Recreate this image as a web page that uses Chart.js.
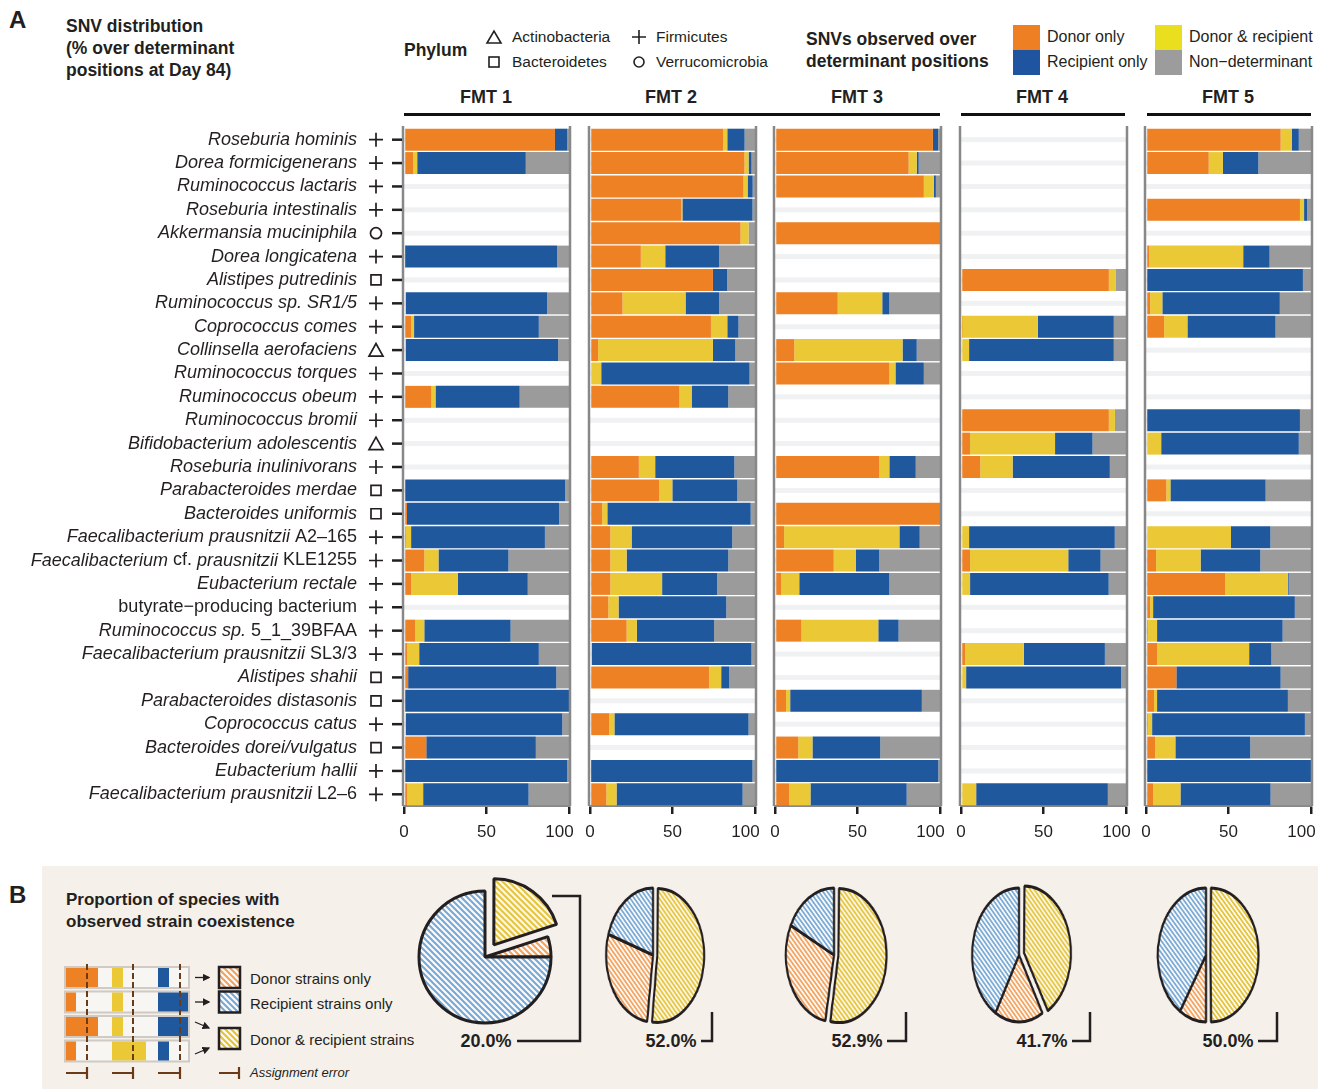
<!DOCTYPE html>
<html>
<head>
<meta charset="utf-8">
<script src="https://cdn.jsdelivr.net/npm/chart.js@4.4.1/dist/chart.umd.min.js"></script>
<style>
  body { margin: 0; background: #fff; }
  #page { position: relative; width: 1325px; height: 1089px; overflow: hidden;
          font-family: 'Liberation Sans', Arial, sans-serif; color: #231f20; }
  .t { position: absolute; white-space: nowrap; }
  .b { font-weight: bold; }
  .c { text-align: center; }
  canvas { position: absolute; }
  .sw { position: absolute; width: 27px; height: 25px; }
  .rule { position: absolute; height: 3px; background: #111; top: 113px; }
</style>
</head>
<body>
<div id="page">
  <div style="position:absolute;left:42px;top:866px;width:1276px;height:223px;background:#f5f0ea"></div>

  <!-- panel A header -->
  <div class="t b" style="left:9px;top:6px;font-size:24px;line-height:28px">A</div>
  <div class="t b" style="left:66px;top:15px;font-size:17.5px;line-height:22px">SNV distribution<br>(% over determinant<br>positions at Day 84)</div>
  <div class="t b" style="left:404px;top:39px;font-size:17.5px;line-height:22px">Phylum</div>
  <div class="t" style="left:512px;top:27px;font-size:15.5px;line-height:20px">Actinobacteria</div>
  <div class="t" style="left:512px;top:52px;font-size:15.5px;line-height:20px">Bacteroidetes</div>
  <div class="t" style="left:656px;top:27px;font-size:15.5px;line-height:20px">Firmicutes</div>
  <div class="t" style="left:656px;top:52px;font-size:15.5px;line-height:20px">Verrucomicrobia</div>
  <div class="t b" style="left:806px;top:28px;font-size:17.5px;line-height:22px">SNVs observed over<br>determinant positions</div>
  <div class="sw" style="left:1013px;top:25px;background:#ee7f22"></div>
  <div class="sw" style="left:1013px;top:50px;background:#1f55a0"></div>
  <div class="sw" style="left:1155px;top:25px;background:#e9df1f"></div>
  <div class="sw" style="left:1155px;top:50px;background:#9c9c9c"></div>
  <div class="t" style="left:1047px;top:27px;font-size:16px;line-height:20px">Donor only</div>
  <div class="t" style="left:1047px;top:52px;font-size:16px;line-height:20px">Recipient only</div>
  <div class="t" style="left:1189px;top:27px;font-size:16px;line-height:20px">Donor &amp; recipient</div>
  <div class="t" style="left:1189px;top:52px;font-size:16px;line-height:20px">Non−determinant</div>

  <div class="t b c" style="left:436px;width:100px;top:86px;font-size:18px;line-height:22px">FMT 1</div>
  <div class="t b c" style="left:621px;width:100px;top:86px;font-size:18px;line-height:22px">FMT 2</div>
  <div class="t b c" style="left:807px;width:100px;top:86px;font-size:18px;line-height:22px">FMT 3</div>
  <div class="t b c" style="left:992px;width:100px;top:86px;font-size:18px;line-height:22px">FMT 4</div>
  <div class="t b c" style="left:1178px;width:100px;top:86px;font-size:18px;line-height:22px">FMT 5</div>
  <div class="rule" style="left:404px;width:536px"></div>
  <div class="rule" style="left:961px;width:164px"></div>
  <div class="rule" style="left:1147px;width:164px"></div>

  <!-- panel B texts -->
  <div class="t b" style="left:9px;top:881px;font-size:24px;line-height:28px">B</div>
  <div class="t b" style="left:66px;top:889px;font-size:17px;line-height:22px">Proportion of species with<br>observed strain coexistence</div>
  <div class="t" style="left:250px;top:969px;font-size:15px;line-height:20px">Donor strains only</div>
  <div class="t" style="left:250px;top:994px;font-size:15px;line-height:20px">Recipient strains only</div>
  <div class="t" style="left:250px;top:1030px;font-size:15px;line-height:20px">Donor &amp; recipient strains</div>
  <div class="t" style="left:250px;top:1065px;font-size:13px;line-height:16px;font-style:italic">Assignment error</div>
  <div class="t b c" style="left:446px;width:80px;top:1030px;font-size:18px;line-height:22px">20.0%</div>
  <div class="t b c" style="left:631px;width:80px;top:1030px;font-size:18px;line-height:22px">52.0%</div>
  <div class="t b c" style="left:817px;width:80px;top:1030px;font-size:18px;line-height:22px">52.9%</div>
  <div class="t b c" style="left:1002px;width:80px;top:1030px;font-size:18px;line-height:22px">41.7%</div>
  <div class="t b c" style="left:1188px;width:80px;top:1030px;font-size:18px;line-height:22px">50.0%</div>

  <svg style="position:absolute;left:0;top:0;z-index:5" width="1325" height="1089">
    <defs>
      <pattern id="hO" width="6" height="6" patternUnits="userSpaceOnUse">
        <rect width="6" height="6" fill="#fcfaf7"/>
        <path d="M-3,-3 L9,9 M-3,3 L3,9 M3,-3 L9,3" stroke="#f4a15c" stroke-width="2"/>
      </pattern>
      <pattern id="hB" width="6" height="6" patternUnits="userSpaceOnUse">
        <rect width="6" height="6" fill="#fcfaf7"/>
        <path d="M-3,-3 L9,9 M-3,3 L3,9 M3,-3 L9,3" stroke="#74a8d8" stroke-width="2"/>
      </pattern>
      <pattern id="hY" width="6" height="6" patternUnits="userSpaceOnUse">
        <rect width="6" height="6" fill="#fcfaf7"/>
        <path d="M-3,-3 L9,9 M-3,3 L3,9 M3,-3 L9,3" stroke="#e6c22c" stroke-width="2"/>
      </pattern>
      <marker id="ah" markerWidth="6" markerHeight="6" refX="5" refY="3" orient="auto">
        <path d="M0,0 L6,3 L0,6 z" fill="#231f20"/>
      </marker>
    </defs>
    <!-- phylum legend symbols -->
    <g fill="none" stroke="#231f20" stroke-width="1.6">
      <path d="M487,43 L501,43 L494,31 Z"/>
      <rect x="489" y="57" width="10" height="10"/>
      <path d="M632,37 H646 M639,30 V44"/>
      <circle cx="639" cy="62" r="5"/>
    </g>
    <!-- schematic bars -->
    <g>
      <rect x="65" y="967" width="124" height="21" fill="#f8f6f3" stroke="#cfcac4" stroke-width="2"/>
      <rect x="66" y="968" width="32" height="19" fill="#ed8124"/>
      <rect x="112" y="968" width="11" height="19" fill="#eac836"/>
      <rect x="158" y="968" width="11" height="19" fill="#20589e"/>
      <rect x="65" y="991.5" width="124" height="21" fill="#f8f6f3" stroke="#cfcac4" stroke-width="2"/>
      <rect x="66" y="992.5" width="10" height="19" fill="#ed8124"/>
      <rect x="112" y="992.5" width="11" height="19" fill="#eac836"/>
      <rect x="158" y="992.5" width="30" height="19" fill="#20589e"/>
      <rect x="65" y="1016" width="124" height="21" fill="#f8f6f3" stroke="#cfcac4" stroke-width="2"/>
      <rect x="66" y="1017" width="32" height="19" fill="#ed8124"/>
      <rect x="112" y="1017" width="11" height="19" fill="#eac836"/>
      <rect x="158" y="1017" width="30" height="19" fill="#20589e"/>
      <rect x="65" y="1040.5" width="124" height="21" fill="#f8f6f3" stroke="#cfcac4" stroke-width="2"/>
      <rect x="66" y="1041.5" width="10" height="19" fill="#ed8124"/>
      <rect x="112" y="1041.5" width="34" height="19" fill="#eac836"/>
      <rect x="158" y="1041.5" width="11" height="19" fill="#20589e"/>
      <path d="M87,964 V1063 M133,964 V1063 M180,964 V1063" stroke="#6a3b16" stroke-width="2" stroke-dasharray="6 3"/>
      <path d="M66,1073 H87 M87,1067 V1079 M112,1073 H133 M133,1067 V1079 M158,1073 H180 M180,1067 V1079 M219,1073 H239 M239,1067 V1079" stroke="#6a3b16" stroke-width="2.2" fill="none"/>
      <g stroke="#231f20" stroke-width="1.3" marker-end="url(#ah)">
        <line x1="195" y1="977.5" x2="209" y2="977.5"/>
        <line x1="195" y1="1002" x2="209" y2="1002"/>
        <line x1="195" y1="1022" x2="209" y2="1028"/>
        <line x1="195" y1="1054" x2="209" y2="1048"/>
      </g>
      <rect x="219" y="967" width="21" height="21" fill="url(#hO)" stroke="#231f20" stroke-width="2.5"/>
      <rect x="219" y="991.5" width="21" height="21" fill="url(#hB)" stroke="#231f20" stroke-width="2.5"/>
      <rect x="219" y="1028" width="21" height="21" fill="url(#hY)" stroke="#231f20" stroke-width="2.5"/>
    </g>
    <!-- pie label connectors -->
    <g fill="none" stroke="#231f20" stroke-width="2.5">
      <polyline points="517,1041 580,1041 580,896 552,896"/>
      <polyline points="701,1041 712,1041 712,1012"/>
      <polyline points="887,1041 906,1041 906,1012"/>
      <polyline points="1072,1041 1090,1041 1090,1012"/>
      <polyline points="1258,1041 1277,1041 1277,1012"/>
    </g>
  </svg>
</div>

<script>
const _ = null;

// species (names in *...* are italic) and phylum: F Firmicutes, B Bacteroidetes, A Actinobacteria, V Verrucomicrobia
const species = [
  '*Roseburia hominis*', '*Dorea formicigenerans*', '*Ruminococcus lactaris*', '*Roseburia intestinalis*',
  '*Akkermansia muciniphila*', '*Dorea longicatena*', '*Alistipes putredinis*', '*Ruminococcus sp. SR1/5*',
  '*Coprococcus comes*', '*Collinsella aerofaciens*', '*Ruminococcus torques*', '*Ruminococcus obeum*',
  '*Ruminococcus bromii*', '*Bifidobacterium adolescentis*', '*Roseburia inulinivorans*', '*Parabacteroides merdae*',
  '*Bacteroides uniformis*', '*Faecalibacterium prausnitzii* A2–165', '*Faecalibacterium* cf. *prausnitzii* KLE1255',
  '*Eubacterium rectale*', 'butyrate−producing bacterium', '*Ruminococcus sp.* 5_1_39BFAA',
  '*Faecalibacterium prausnitzii* SL3/3', '*Alistipes shahii*', '*Parabacteroides distasonis*', '*Coprococcus catus*',
  '*Bacteroides dorei/vulgatus*', '*Eubacterium hallii*', '*Faecalibacterium prausnitzii* L2–6'
];
const phylum = ['F','F','F','F','V','F','B','F','F','A','F','F','F','A','F','B','B','F','F','F','F','F','F','B','B','F','B','F','F'];

const xTicks = [0, 50, 100];

// % of SNVs: donor only / donor & recipient / recipient only / non-determinant
const fmt1Donor = [91.5, 5.5, _, _, _, 0, _, 0, 4.3, 0, _, 16.6, _, _, _, 0, 1.8, 1.2, 12.3, 4.3, _, 6.8, 1.8, 2.5, 0, 0, 13.5, 0, 1.8];
const fmt1Both  = [0, 2.5, _, _, _, 0.6, _, 1.2, 1.8, 1.2, _, 2.5, _, _, _, 0, 0, 3.1, 8.6, 28.3, _, 5.5, 7.4, 0, 0, 1.2, 0, 0, 9.8];
const fmt1Recip = [7.5, 65.8, _, _, _, 92.2, _, 85.5, 75.6, 92.2, _, 51, _, _, _, 97.7, 92.2, 81.1, 42.4, 42.4, _, 52.3, 72.5, 89.8, 100, 94.7, 66.4, 99, 63.9];
const fmt1Non   = [1, 26.2, _, _, _, 7.2, _, 13.3, 18.3, 6.6, _, 29.9, _, _, _, 2.3, 6, 14.6, 36.7, 25, _, 35.4, 18.3, 7.7, 0, 4.1, 20.1, 1, 24.5];

const fmt2Donor = [80.7, 93.6, 93, 55.4, 91.2, 30.8, 74.5, 19.7, 73.3, 4.9, 0, 54.2, _, _, 29.6, 41.9, 7.4, 12.3, 12.3, 12.3, 11.1, 22.2, 0, 72.1, _, 11.7, _, 0, 9.9];
const fmt2Both  = [2.5, 2.5, 2.5, 0.6, 4.9, 14.8, 0, 38.2, 9.9, 69.6, 6.8, 7.4, _, _, 9.9, 8, 3.1, 12.9, 9.9, 31.4, 6.2, 6.2, 1.2, 7.4, _, 3.1, _, 0.6, 6.2];
const fmt2Recip = [10.5, 1.8, 3.1, 42.5, 0, 32.6, 8.6, 20.3, 6.8, 13.6, 89.9, 22.2, _, _, 48, 39.4, 86.9, 61, 61.6, 33.3, 65.3, 46.8, 96.7, 4.9, _, 81.3, _, 97.9, 76.4];
const fmt2Non   = [6.3, 2.1, 1.4, 1.5, 3.9, 21.8, 16.9, 21.8, 10, 11.9, 3.3, 16.2, _, _, 12.5, 10.7, 2.6, 13.8, 16.2, 23, 17.4, 24.8, 2.1, 15.6, _, 3.9, _, 1.5, 7.5];

const fmt3Donor = [95.7, 81, 90.2, _, 100, _, _, 38, _, 11.7, 69.3, _, _, _, 63.2, _, 100, 5.5, 35.6, 3.7, _, 16, _, _, 6.7, _, 14.1, 0, 8.6];
const fmt3Both  = [0, 4.9, 6.1, _, 0, _, _, 27, _, 65.6, 3.7, _, _, _, 6.1, _, 0, 69.9, 13.5, 11, _, 46.6, _, _, 2.5, _, 8.6, 0, 12.9];
const fmt3Recip = [3.1, 1.2, 1.2, _, 0, _, _, 4.3, _, 8.6, 17.2, _, _, _, 16, _, 0, 12.3, 14.1, 54.6, _, 12.3, _, _, 79.8, _, 41.1, 99, 58.3];
const fmt3Non   = [1.2, 12.9, 2.5, _, 0, _, _, 30.7, _, 14.1, 9.8, _, _, _, 14.7, _, 0, 12.3, 36.8, 30.7, _, 25.1, _, _, 11, _, 36.2, 1, 20.2];

const fmt4Donor = [_, _, _, _, _, _, 89.6, _, 0.6, 0, _, _, 89.6, 5.5, 11.7, _, _, 0, 5.5, 0, _, _, 2.5, 0, _, _, _, _, 0];
const fmt4Both  = [_, _, _, _, _, _, 4.3, _, 46, 4.9, _, _, 3.7, 51.5, 19.6, _, _, 4.9, 59.5, 5.5, _, _, 35.6, 3.1, _, _, _, _, 9.2];
const fmt4Recip = [_, _, _, _, _, _, 0, _, 46, 87.7, _, _, 0, 22.7, 58.9, _, _, 88.3, 19.6, 84, _, _, 49.1, 93.9, _, _, _, _, 79.8];
const fmt4Non   = [_, _, _, _, _, _, 6.1, _, 7.4, 7.4, _, _, 6.7, 20.3, 9.8, _, _, 6.8, 15.4, 10.5, _, _, 12.8, 3, _, _, _, _, 11];

const fmt5Donor = [81.6, 38, _, 93.3, _, 1.8, 0, 2.5, 11, _, _, _, 0, 0, _, 12.3, _, 0, 6.1, 47.9, 2.5, 1.2, 6.7, 18.4, 4.9, 1.2, 5.5, 0, 4.3];
const fmt5Both  = [6.7, 8.6, _, 2.5, _, 57.1, 0, 7.4, 14.1, _, _, _, 0, 9.2, _, 2.5, _, 51.5, 27, 38, 1.8, 5.5, 55.8, 0, 1.8, 2.5, 12.3, 0, 16.6];
const fmt5Recip = [4.3, 21.5, _, 1.8, _, 16, 95.1, 71.2, 53.4, _, _, _, 93.3, 83.4, _, 57.7, _, 23.9, 36.2, 0.6, 85.9, 76.1, 13.5, 63.2, 79.3, 92.6, 45.4, 100, 54.6];
const fmt5Non   = [7.4, 31.9, _, 2.4, _, 25.1, 4.9, 18.9, 21.5, _, _, _, 6.7, 7.4, _, 27.5, _, 24.6, 30.7, 13.5, 9.8, 17.2, 24, 18.4, 14, 3.7, 36.8, 0, 24.5];

// panel B: proportion of species (%) per FMT
const pieBoth  = [20.0, 52.0, 52.9, 41.7, 50.0];
const pieDonor = [5.0, 28.0, 29.4, 16.7, 9.1];
const pieRecip = [75.0, 20.0, 17.7, 41.6, 40.9];

const ORANGE = '#ed8124', YELLOW = '#eac836', BLUE = '#20589e', GRAY = '#9b9b9b';
const INK = '#231f20';
Chart.defaults.font.family = "'Liberation Sans', Arial, sans-serif";

const page = document.getElementById('page');
function addCanvas(left, top, w, h, z) {
  const c = document.createElement('canvas');
  c.width = w; c.height = h;
  c.style.left = left + 'px'; c.style.top = top + 'px';
  c.style.zIndex = z || 2;
  page.appendChild(c);
  return c;
}

function drawRich(ctx, text, xRight, y) {
  const segs = [];
  let total = 0;
  text.split('*').forEach((p, i) => {
    if (!p) return;
    const font = (i % 2 ? 'italic ' : '') + "18px 'Liberation Sans', Arial";
    ctx.font = font;
    const w = ctx.measureText(p).width;
    segs.push({ p, font, w });
    total += w;
  });
  let x = xRight - total;
  segs.forEach(s => { ctx.font = s.font; ctx.fillText(s.p, x, y); x += s.w; });
}

function drawSymbol(ctx, p, x, y) {
  ctx.beginPath();
  if (p === 'F') { ctx.moveTo(x - 7, y); ctx.lineTo(x + 7, y); ctx.moveTo(x, y - 7); ctx.lineTo(x, y + 7); }
  else if (p === 'B') { ctx.rect(x - 5, y - 5, 10, 10); }
  else if (p === 'A') { ctx.moveTo(x - 7, y + 6); ctx.lineTo(x + 7, y + 6); ctx.lineTo(x, y - 6.5); ctx.closePath(); }
  else { ctx.arc(x, y, 5.5, 0, Math.PI * 2); }
  ctx.stroke();
}

const panelFrame = {
  id: 'panelFrame',
  beforeDatasetsDraw(chart) {
    const { ctx, chartArea: a, scales: { y } } = chart;
    ctx.save();
    ctx.fillStyle = '#f0f1f3';
    species.forEach((s, i) => {
      const py = y.getPixelForValue(i);
      ctx.fillRect(a.left, py - 2.5, a.right - a.left, 5);
    });
    ctx.restore();
  },
  afterDatasetsDraw(chart) {
    const { ctx, chartArea: a } = chart;
    ctx.save();
    ctx.strokeStyle = '#888';
    ctx.lineWidth = 2.5;
    ctx.beginPath();
    ctx.moveTo(a.left - 1, a.top - 2); ctx.lineTo(a.left - 1, a.bottom);
    ctx.moveTo(a.right + 1, a.top - 2); ctx.lineTo(a.right + 1, a.bottom);
    ctx.stroke();
    ctx.restore();
  }
};

const rowLabels = {
  id: 'rowLabels',
  afterDraw(chart) {
    const { ctx, chartArea: a, scales: { y } } = chart;
    ctx.save();
    ctx.fillStyle = INK;
    ctx.strokeStyle = INK;
    ctx.textBaseline = 'middle';
    species.forEach((s, i) => {
      const py = y.getPixelForValue(i);
      drawRich(ctx, s, a.left - 47, py);
      ctx.lineWidth = 1.7;
      drawSymbol(ctx, phylum[i], a.left - 28, py);
      ctx.lineWidth = 2.5;
      ctx.beginPath(); ctx.moveTo(a.left - 12, py); ctx.lineTo(a.left - 2, py); ctx.stroke();
    });
    ctx.restore();
  }
};

const panels = [
  [fmt1Donor, fmt1Both, fmt1Recip, fmt1Non],
  [fmt2Donor, fmt2Both, fmt2Recip, fmt2Non],
  [fmt3Donor, fmt3Both, fmt3Recip, fmt3Non],
  [fmt4Donor, fmt4Both, fmt4Recip, fmt4Non],
  [fmt5Donor, fmt5Both, fmt5Recip, fmt5Non]
];
const panelX = [404, 590, 775, 961, 1146];
const PW = 165, PAD = 40;

panels.forEach((d, k) => {
  const padLeft = k === 0 ? panelX[0] : PAD;
  const cv = addCanvas(panelX[k] - padLeft, 0, padLeft + PW + PAD, 850, 2);
  new Chart(cv, {
    type: 'bar',
    data: {
      labels: species.map(s => s.replace(/\*/g, '')),
      datasets: [
        { label: 'Donor only', data: d[0], backgroundColor: ORANGE },
        { label: 'Donor & recipient', data: d[1], backgroundColor: YELLOW },
        { label: 'Recipient only', data: d[2], backgroundColor: BLUE },
        { label: 'Non−determinant', data: d[3], backgroundColor: GRAY }
      ]
    },
    options: {
      indexAxis: 'y',
      responsive: false,
      animation: false,
      layout: { padding: { top: 128, bottom: 4, left: padLeft, right: PAD } },
      datasets: { bar: { barPercentage: 0.94, categoryPercentage: 1, borderWidth: 0 } },
      plugins: { legend: { display: false }, tooltip: { enabled: false }, title: { display: false } },
      scales: {
        x: {
          stacked: true, min: xTicks[0], max: xTicks[2],
          afterFit: s => { s.height = 40; },
          afterBuildTicks: s => { s.ticks = xTicks.map(v => ({ value: v })); },
          ticks: {
            color: INK, font: { size: 17 }, padding: 8, maxRotation: 0,
            callback: v => v === 100 ? '100\u2007\u2007' : String(v)
          },
          grid: { drawOnChartArea: false, drawTicks: true, tickLength: 8, color: INK, lineWidth: 2.5 },
          border: { display: true, color: '#888', width: 2 }
        },
        y: { stacked: true, display: false }
      }
    },
    plugins: k === 0 ? [panelFrame, rowLabels] : [panelFrame]
  });
});

// hatched fills for pies
function hatch(color) {
  const c = document.createElement('canvas');
  c.width = 6; c.height = 6;
  const g = c.getContext('2d');
  g.fillStyle = '#fcfaf7';
  g.fillRect(0, 0, 6, 6);
  g.strokeStyle = color;
  g.lineWidth = 2;
  g.beginPath();
  g.moveTo(-3, -3); g.lineTo(9, 9);
  g.moveTo(-3, 3); g.lineTo(3, 9);
  g.moveTo(3, -3); g.lineTo(9, 3);
  g.stroke();
  return g.createPattern(c, 'repeat');
}
const hY = hatch('#e6c22c'), hO = hatch('#f4a15c'), hB = hatch('#74a8d8');

// Chart.js enlarges a pulled-out slice of >= 180 degrees; keep all slices the same radius
const keepRadius = {
  id: 'keepRadius',
  afterDatasetUpdate(chart, args) {
    const offs = chart.data.datasets[args.index].offset || [];
    args.meta.data.forEach((arc, j) => {
      const off = (offs[j] || 0) / 4;
      const fix = 1 - Math.sin(Math.min(Math.PI, arc.circumference || 0));
      arc.outerRadius -= off * fix;
    });
  }
};

// pie 1 is round, the others are drawn as upright ellipses
const pieCx = [485, 653, 834, 1019, 1206];
const pieCy = [957, 955, 955, 955, 955];
const pieR = [66, 67, 67, 67, 67];
const pieSx = [1, 0.70, 0.72, 0.70, 0.72];
const pieOff = [60, 24, 24, 30, 24];   // Chart.js moves an offset slice by offset / 4

pieBoth.forEach((v, i) => {
  const S = 190;
  const cv = addCanvas(pieCx[i] - S / 2, pieCy[i] - S / 2, S, S, 3);
  cv.style.transform = 'scaleX(' + pieSx[i] + ')';
  cv.style.transformOrigin = '50% 50%';
  new Chart(cv, {
    type: 'pie',
    data: {
      labels: ['Donor & recipient strains', 'Donor strains only', 'Recipient strains only'],
      datasets: [{
        data: [pieBoth[i], pieDonor[i], pieRecip[i]],
        backgroundColor: [hY, hO, hB],
        borderColor: INK,
        borderWidth: 3,
        offset: [pieOff[i], 0, 0]
      }]
    },
    options: {
      responsive: false,
      animation: false,
      radius: pieR[i],
      layout: { padding: 0 },
      plugins: { legend: { display: false }, tooltip: { enabled: false } }
    },
    plugins: [keepRadius]
  });
});
</script>
</body>
</html>
